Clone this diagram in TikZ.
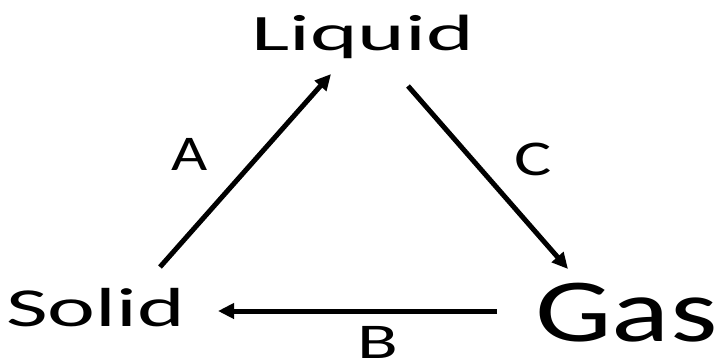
\documentclass[tikz,border=0pt]{standalone}
\usepackage{fontspec}
\setmainfont{Carlito}
\usetikzlibrary{arrows.meta}
\tikzset{
  lbl/.style={anchor=base west, inner sep=0pt, font=\fontsize{50}{60}\selectfont},
  arr/.style={line width=5pt, -{Triangle[length=16pt,width=15pt]}}
}
\begin{document}
\begin{tikzpicture}[x=1pt,y=-1pt]
\useasboundingbox (0,0) rectangle (717,360);
\node[lbl, font=\fontsize{51}{60}\selectfont] (liquid) at (251,50) {\scalebox{1.78}[1]{Liquid}};
\node[lbl, font=\fontsize{55}{66}\selectfont] (solid) at (6,326) {\scalebox{1.65}[1]{Solid}};
\node[lbl, font=\fontsize{90}{100}\selectfont] (gas) at (535,341) {\scalebox{1.35}[1]{Gas}};
\node[lbl] (A) at (171,170) {\scalebox{1.25}[1]{A}};
\node[lbl] (C) at (514,175) {\scalebox{1.4}[1]{C}};
\node[lbl] (B) at (357,358) {\scalebox{1.5}[1]{B}};
\coordinate (aS) at (160,267);
\coordinate (aL) at (331,74);
\coordinate (cL) at (408,86);
\coordinate (cG) at (568,269);
\coordinate (bG) at (497,311);
\coordinate (bS) at (218,311);
\draw[arr] (aS) -- (aL);
\draw[arr] (cL) -- (cG);
\draw[arr] (bG) -- (bS);
\end{tikzpicture}
\end{document}
